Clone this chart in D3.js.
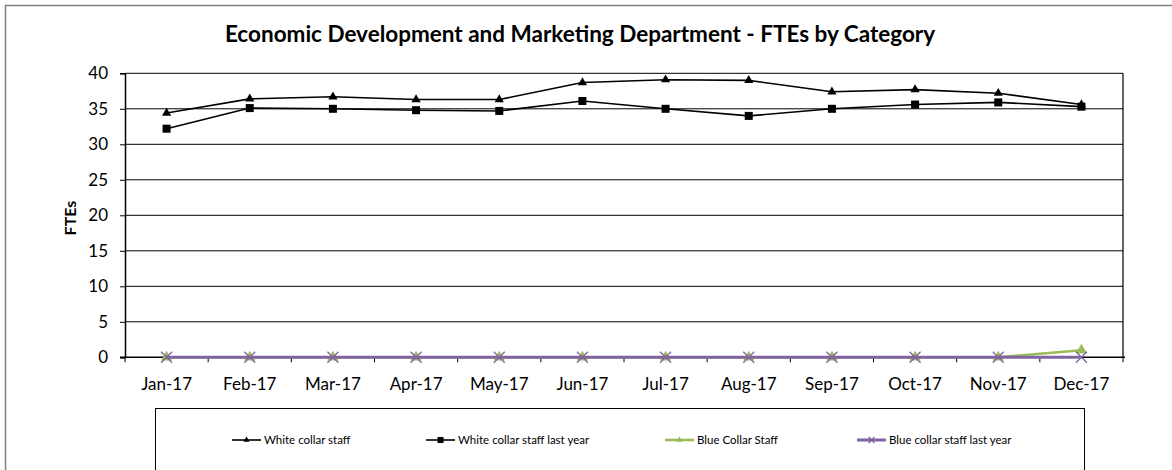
<!DOCTYPE html>
<html>
<head>
<meta charset="utf-8">
<script src="https://cdn.jsdelivr.net/npm/d3@7"></script>
<style>
  html, body { margin: 0; padding: 0; background: #fff; }
  svg { display: block; font-family: Lato, "Open Sans", sans-serif; }
</style>
</head>
<body>
<svg id="chart" width="1172" height="470"></svg>
<script>
// Monthly FTE counts for the department
const months = ["Jan-17","Feb-17","Mar-17","Apr-17","May-17","Jun-17","Jul-17","Aug-17","Sep-17","Oct-17","Nov-17","Dec-17"];
const whiteCollar         = [34.4, 36.4, 36.7, 36.3, 36.3, 38.7, 39.1, 39.0, 37.4, 37.7, 37.2, 35.6];
const whiteCollarLastYear = [32.2, 35.1, 35.0, 34.8, 34.7, 36.1, 35.0, 34.0, 35.0, 35.6, 35.9, 35.3];
const blueCollar          = [0, 0, 0, 0, 0, 0, 0, 0, 0, 0, 0, 1];
const blueCollarLastYear  = [0, 0, 0, 0, 0, 0, 0, 0, 0, 0, 0, 0];
const yTicks = [0, 5, 10, 15, 20, 25, 30, 35, 40];

const series = [
  { name: "White collar staff",           values: whiteCollar,         color: "#000000", width: 1.6, marker: "triangle" },
  { name: "White collar staff last year", values: whiteCollarLastYear, color: "#000000", width: 1.6, marker: "square" },
  { name: "Blue Collar Staff",            values: blueCollar,          color: "#9BBB59", width: 2.6, marker: "triangle" },
  { name: "Blue collar staff last year",  values: blueCollarLastYear,  color: "#8064A2", width: 3,   marker: "x" }
];

const svg = d3.select("#chart");
const plot = { left: 125, right: 1123, top: 73.3, bottom: 357.3 };

// Outer chart frame
svg.append("rect")
  .attr("x", 5.5).attr("y", 5.5).attr("width", 1180).attr("height", 480)
  .attr("fill", "none").attr("stroke", "#7f7f7f").attr("stroke-width", 1.5);

const x = d3.scaleBand().domain(months).range([plot.left, plot.right]);
const cx = d => x(d) + x.bandwidth() / 2;
const y = d3.scaleLinear().domain([0, 40]).range([plot.bottom, plot.top]);

// Title
svg.append("text")
  .attr("x", 580).attr("y", 42)
  .attr("text-anchor", "middle")
  .attr("font-weight", "bold").attr("font-size", 22.5)
  .attr("fill", "#000")
  .text("Economic Development and Marketing Department - FTEs by Category");

// Horizontal gridlines
svg.append("g").selectAll("line").data(yTicks.filter(t => t > 0)).join("line")
  .attr("x1", plot.left).attr("x2", plot.right)
  .attr("y1", d => y(d)).attr("y2", d => y(d))
  .attr("stroke", "#000").attr("stroke-width", 1);

// Right edge of plot area
svg.append("line")
  .attr("x1", plot.right).attr("x2", plot.right)
  .attr("y1", plot.top).attr("y2", plot.bottom)
  .attr("stroke", "#000").attr("stroke-width", 1.2);

// Y axis
const yAxis = svg.append("g")
  .attr("transform", `translate(${plot.left},0)`)
  .call(d3.axisLeft(y).tickValues(yTicks).tickSize(5).tickPadding(12));
yAxis.select(".domain").attr("stroke", "#000").attr("stroke-width", 1.5);
yAxis.selectAll(".tick line").attr("stroke", "#000");
yAxis.selectAll(".tick text").attr("font-size", 17).attr("font-family", "Lato").attr("fill", "#000");

// X axis: labels centred in each band, ticks on band boundaries
const xAxis = svg.append("g")
  .attr("transform", `translate(0,${plot.bottom})`)
  .call(d3.axisBottom(x).tickSize(0).tickPadding(21));
xAxis.select(".domain").remove();
xAxis.selectAll(".tick text").attr("font-size", 17).attr("font-family", "Lato").attr("fill", "#000");
svg.append("line")
  .attr("x1", plot.left - 5).attr("x2", plot.right + 2)
  .attr("y1", plot.bottom).attr("y2", plot.bottom)
  .attr("stroke", "#000").attr("stroke-width", 1.5);
const boundaries = months.map(m => x(m)).concat([plot.right]);
svg.append("g").selectAll("line").data(boundaries).join("line")
  .attr("x1", d => d).attr("x2", d => d)
  .attr("y1", plot.bottom).attr("y2", plot.bottom + 5)
  .attr("stroke", "#000").attr("stroke-width", 1);

// Y axis title
svg.append("text")
  .attr("transform", `translate(76,218) rotate(-90)`)
  .attr("text-anchor", "middle")
  .attr("font-weight", "bold").attr("font-size", 16)
  .text("FTEs");

// Marker drawing
function drawMarker(g, type, color, size) {
  if (type === "triangle") {
    g.append("path").attr("d", d3.symbol(d3.symbolTriangle, size * size * 0.45)())
      .attr("fill", color);
  } else if (type === "square") {
    g.append("rect").attr("x", -size / 2).attr("y", -size / 2)
      .attr("width", size).attr("height", size).attr("fill", color);
  } else if (type === "x") {
    const h = size / 2;
    g.append("path").attr("d", `M${-h},${-h}L${h},${h}M${-h},${h}L${h},${-h}`)
      .attr("stroke", color).attr("stroke-width", 1.3).attr("fill", "none");
  }
}

const line = d3.line().x((d, i) => cx(months[i])).y(d => y(d));
const markerSize = { triangle: 9, square: 8, x: 9 };

series.forEach(s => {
  const g = svg.append("g");
  g.append("path").datum(s.values)
    .attr("d", line)
    .attr("fill", "none").attr("stroke", s.color)
    .attr("stroke-width", s.width).attr("stroke-linejoin", "round");
  s.values.forEach((v, i) => {
    const m = g.append("g").attr("transform", `translate(${cx(months[i])},${y(v)})`);
    drawMarker(m, s.marker, s.color, s.color === "#000000" ? markerSize[s.marker] : 11);
  });
});

// Legend
const legendBox = { x: 155.5, y: 408.5, w: 929, h: 80 };
svg.append("rect")
  .attr("x", legendBox.x).attr("y", legendBox.y)
  .attr("width", legendBox.w).attr("height", legendBox.h)
  .attr("fill", "#fff").attr("stroke", "#000").attr("stroke-width", 1);

const legendX = [232, 426, 665, 857];
const legend = svg.append("g").selectAll("g").data(series).join("g")
  .attr("transform", (d, i) => `translate(${legendX[i]},440)`);
legend.append("line")
  .attr("x1", 0).attr("x2", 29).attr("y1", 0).attr("y2", 0)
  .attr("stroke", d => d.color).attr("stroke-width", d => d.width);
legend.each(function(d) {
  const m = d3.select(this).append("g").attr("transform", "translate(14.5,0)");
  drawMarker(m, d.marker, d.color, 6);
});
legend.append("text")
  .attr("x", 32).attr("y", 0).attr("dy", "0.35em")
  .attr("font-size", 11.5).attr("fill", "#000")
  .text(d => d.name);
</script>
</body>
</html>
